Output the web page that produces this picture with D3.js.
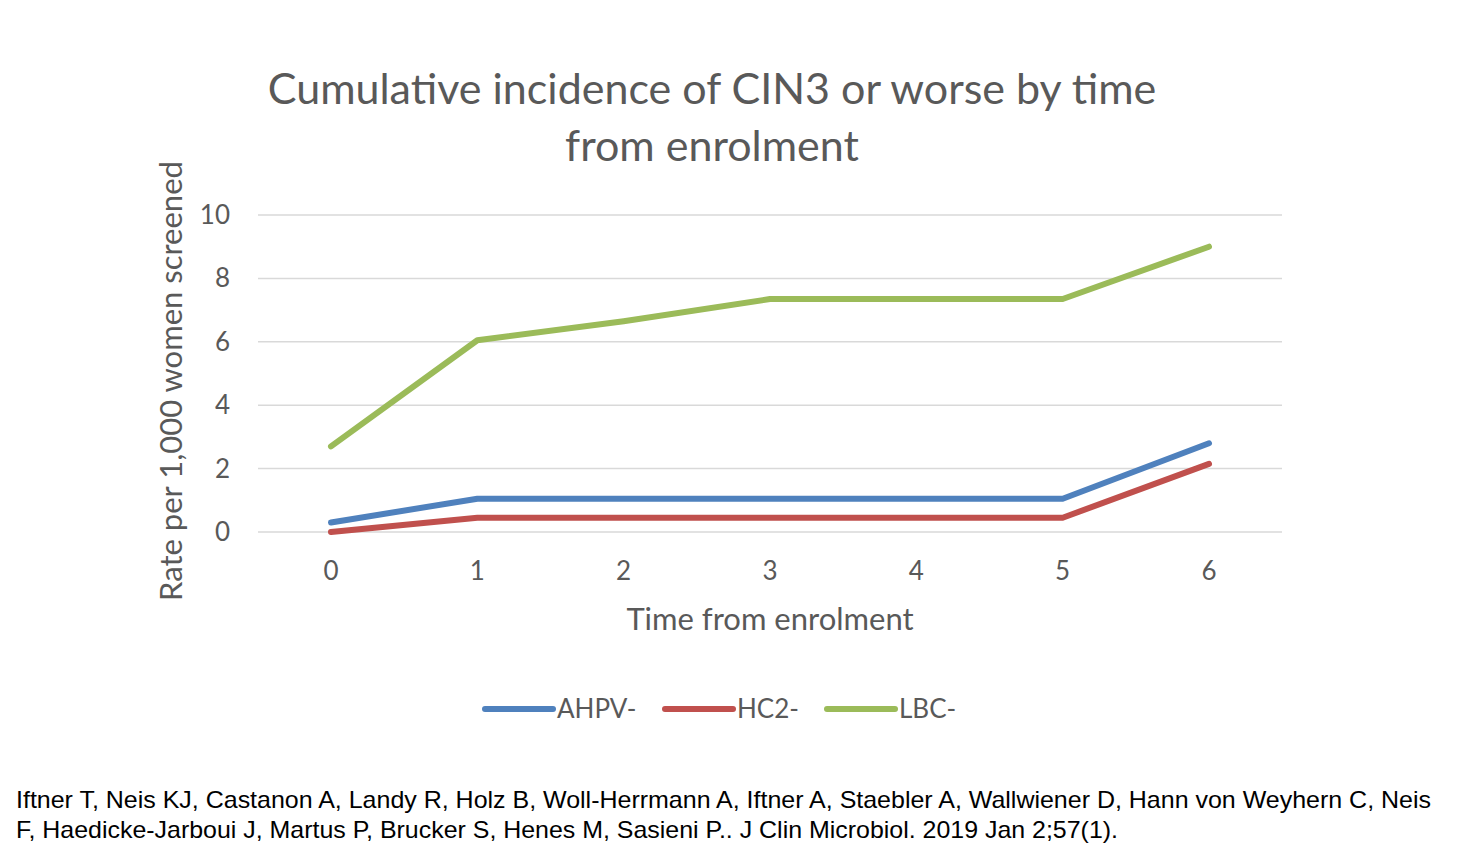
<!DOCTYPE html>
<html>
<head>
  <title>Cumulative incidence of CIN3</title>
</head>
<style>
  body, html { margin: 0; padding: 0; background: #fff; }
  #svg { display: block; }
</style>
<body>
<svg id="svg" width="1465" height="859"></svg>
<script src="https://d3js.org/d3.v7.min.js"></script>
<script>
  // data
  const years = [0, 1, 2, 3, 4, 5, 6]
  const ahpv = [0.3, 1.05, 1.05, 1.05, 1.05, 1.05, 2.8]
  const hc2 = [0, 0.45, 0.45, 0.45, 0.45, 0.45, 2.15]
  const lbc = [2.7, 6.05, 6.65, 7.35, 7.35, 7.35, 9.0]
  const yTicks = [0, 2, 4, 6, 8, 10]
  const seriesNames = ['AHPV-', 'HC2-', 'LBC-']
  const seriesColors = ['#4f81bd', '#c0504d', '#9bbb59']

  const svg = d3.select('#svg')
  const font = 'Lato, "Open Sans", sans-serif'
  const grey = '#595959'

  const xscale = d3.scaleLinear().domain([0, 6]).range([331, 1209])
  const yscale = d3.scaleLinear().domain([0, 10]).range([532, 215])

  // gridlines
  svg.append('g')
    .selectAll('line')
    .data(yTicks)
    .join('line')
    .attr('x1', 258).attr('x2', 1282)
    .attr('y1', d => yscale(d)).attr('y2', d => yscale(d))
    .attr('stroke', '#d9d9d9').attr('stroke-width', 1.5)

  // y tick labels
  svg.append('g')
    .selectAll('text')
    .data(yTicks)
    .join('text')
    .attr('x', 230).attr('y', d => yscale(d) + 9)
    .attr('text-anchor', 'end')
    .attr('font-family', font).attr('font-size', 26).attr('fill', grey)
    .text(d => d)

  // x tick labels
  svg.append('g')
    .selectAll('text')
    .data(years)
    .join('text')
    .attr('x', d => xscale(d)).attr('y', 580)
    .attr('text-anchor', 'middle')
    .attr('font-family', font).attr('font-size', 26).attr('fill', grey)
    .text(d => d)

  // lines
  const linegen = d3.line()
    .x((d, i) => xscale(years[i]))
    .y(d => yscale(d))

  const allSeries = [ahpv, hc2, lbc]
  svg.append('g')
    .selectAll('path')
    .data(allSeries)
    .join('path')
    .attr('d', d => linegen(d))
    .attr('fill', 'none')
    .attr('stroke', (d, i) => seriesColors[i])
    .attr('stroke-width', 6)
    .attr('stroke-linecap', 'round')
    .attr('stroke-linejoin', 'round')

  // title
  svg.append('text')
    .attr('x', 712).attr('y', 104)
    .attr('text-anchor', 'middle')
    .attr('font-family', font).attr('font-size', 43).attr('fill', grey)
    .text('Cumulative incidence of CIN3 or worse by time')
  svg.append('text')
    .attr('x', 712).attr('y', 161)
    .attr('text-anchor', 'middle')
    .attr('font-family', font).attr('font-size', 43).attr('fill', grey)
    .text('from enrolment')

  // axis titles
  svg.append('text')
    .attr('transform', 'translate(182,381) rotate(-90)')
    .attr('text-anchor', 'middle')
    .attr('font-family', font).attr('font-size', 31).attr('fill', grey)
    .text('Rate per 1,000 women screened')
  svg.append('text')
    .attr('x', 770).attr('y', 630)
    .attr('text-anchor', 'middle')
    .attr('font-family', font).attr('font-size', 31).attr('fill', grey)
    .text('Time from enrolment')

  // legend
  const legendX = [485, 665, 827]
  const legend = svg.append('g')
    .selectAll('g')
    .data(seriesNames)
    .join('g')
    .attr('transform', (d, i) => `translate(${legendX[i]},709)`)
  legend.append('line')
    .attr('x1', 0).attr('x2', 68).attr('y1', 0).attr('y2', 0)
    .attr('stroke', (d, i) => seriesColors[i])
    .attr('stroke-width', 6).attr('stroke-linecap', 'round')
  legend.append('text')
    .attr('x', 72).attr('y', 9)
    .attr('font-family', font).attr('font-size', 26).attr('fill', grey)
    .text(d => d)

  // citation
  const citeFont = '"Liberation Sans", Arial, sans-serif'
  svg.append('text')
    .attr('x', 16).attr('y', 808)
    .attr('font-family', citeFont).attr('font-size', 24).attr('fill', '#000')
    .attr('textLength', 1415).attr('lengthAdjust', 'spacingAndGlyphs')
    .text('Iftner T, Neis KJ, Castanon A, Landy R, Holz B, Woll-Herrmann A, Iftner A, Staebler A, Wallwiener D, Hann von Weyhern C, Neis')
  svg.append('text')
    .attr('x', 16).attr('y', 838)
    .attr('font-family', citeFont).attr('font-size', 24).attr('fill', '#000')
    .attr('textLength', 1102).attr('lengthAdjust', 'spacingAndGlyphs')
    .text('F, Haedicke-Jarboui J, Martus P, Brucker S, Henes M, Sasieni P.. J Clin Microbiol. 2019 Jan 2;57(1).')
</script>
</body>
</html>
